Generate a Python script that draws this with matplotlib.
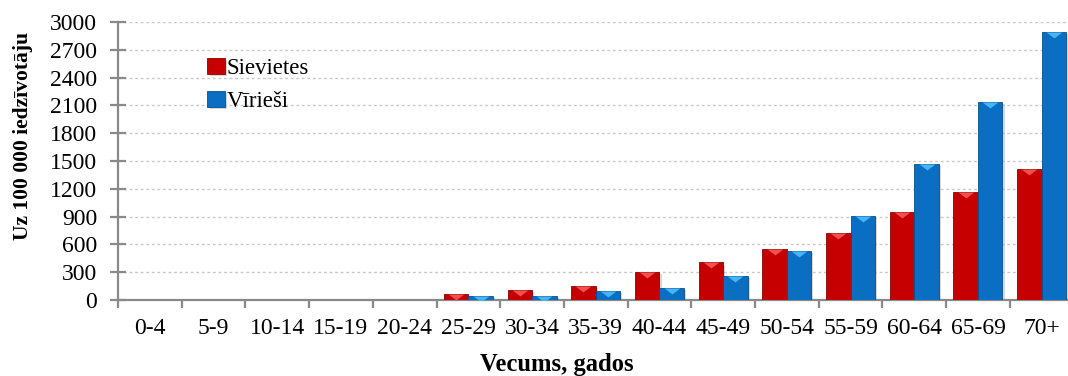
import numpy as np
import matplotlib
matplotlib.use("Agg")
import matplotlib.pyplot as plt
from matplotlib.path import Path
from matplotlib.markers import MarkerStyle
import matplotlib.patheffects as pe

plt.rcParams['font.family'] = ['Liberation Serif', 'DejaVu Serif']

# data
age_groups = ['0-4', '5-9', '10-14', '15-19', '20-24', '25-29', '30-34', '35-39',
              '40-44', '45-49', '50-54', '55-59', '60-64', '65-69', '70+']
women = [0, 0, 0, 0, 0, 70, 110, 155, 300, 405, 552, 719, 953, 1162, 1417]
men = [0, 0, 0, 0, 0, 43, 43, 94, 130, 259, 532, 906, 1468, 2140, 2896]
y_ticks = list(range(0, 3001, 300))

red = '#C60000'
red_edge = '#8E0000'
red_top = '#F05050'
blue = '#0A6FC2'
blue_edge = '#06508E'
blue_top = '#45B5F5'

fig = plt.figure(figsize=(10.68, 3.76), dpi=100)
ax = fig.add_axes([118 / 1068, 76 / 376, 955.5 / 1068, 278 / 376])

x = np.arange(len(age_groups))
w = 0.385
shadow = [pe.SimplePatchShadow(offset=(1.5, -1.5), shadow_rgbFace='#909090', alpha=0.35), pe.Normal()]

b1 = ax.bar(x - w / 2, women, w, color=red, edgecolor=red_edge, linewidth=0.6,
            label='Sievietes', zorder=3)
b2 = ax.bar(x + w / 2, men, w, color=blue, edgecolor=blue_edge, linewidth=0.6,
            label='Vīrieši', zorder=3)
for b in list(b1) + list(b2):
    b.set_path_effects(shadow)

# bevel highlight at the top of each bar
chevron = MarkerStyle(Path([(-1, 0), (1, 0), (0, -0.75), (-1, 0)]))
wv = np.array(women)
mv = np.array(men)
ax.scatter((x - w / 2)[wv > 0], wv[wv > 0], marker=chevron, s=130, color=red_top,
           linewidths=0, zorder=4)
ax.scatter((x + w / 2)[mv > 0], mv[mv > 0], marker=chevron, s=130, color=blue_top,
           linewidths=0, zorder=4)

ax.set_xlim(-0.5, len(age_groups) - 0.5)
ax.set_ylim(0, 3000)
ax.set_yticks(y_ticks)
ax.set_xticks(np.arange(-0.5, len(age_groups)), [''] * (len(age_groups) + 1))
ax.set_xticks(x, age_groups, minor=True)

ax.yaxis.grid(True, color='#C8C8C8', linestyle=(0, (2, 2)), linewidth=1, zorder=0)
ax.set_axisbelow(True)

for s in ['top', 'right']:
    ax.spines[s].set_visible(False)
for s in ['left', 'bottom']:
    ax.spines[s].set_color('#8A8A8A')
    ax.spines[s].set_linewidth(1.6)

ax.tick_params(axis='y', direction='inout', length=12, width=1.6, color='#8A8A8A',
               pad=9, labelsize=17)
ax.tick_params(axis='x', which='major', direction='out', length=6, width=1.6,
               color='#8A8A8A')
ax.tick_params(axis='x', which='minor', length=0, pad=13, labelsize=17)

leg = ax.legend(loc='upper left', bbox_to_anchor=(0.072, 0.944), frameon=False,
                fontsize=16.5, handlelength=0.75, handleheight=0.7,
                handletextpad=0.1, labelspacing=0.5)

fig.text(23 / 1068, 240 / 376, 'Uz 100 000 iedzīvotāju', rotation=90,
         ha='center', va='center', fontsize=15.5, fontweight='bold')
fig.text(557 / 1068, 5 / 376, 'Vecums, gados', ha='center', va='baseline',
         fontsize=17.7, fontweight='bold')

fig.savefig('out.png', dpi=100)
